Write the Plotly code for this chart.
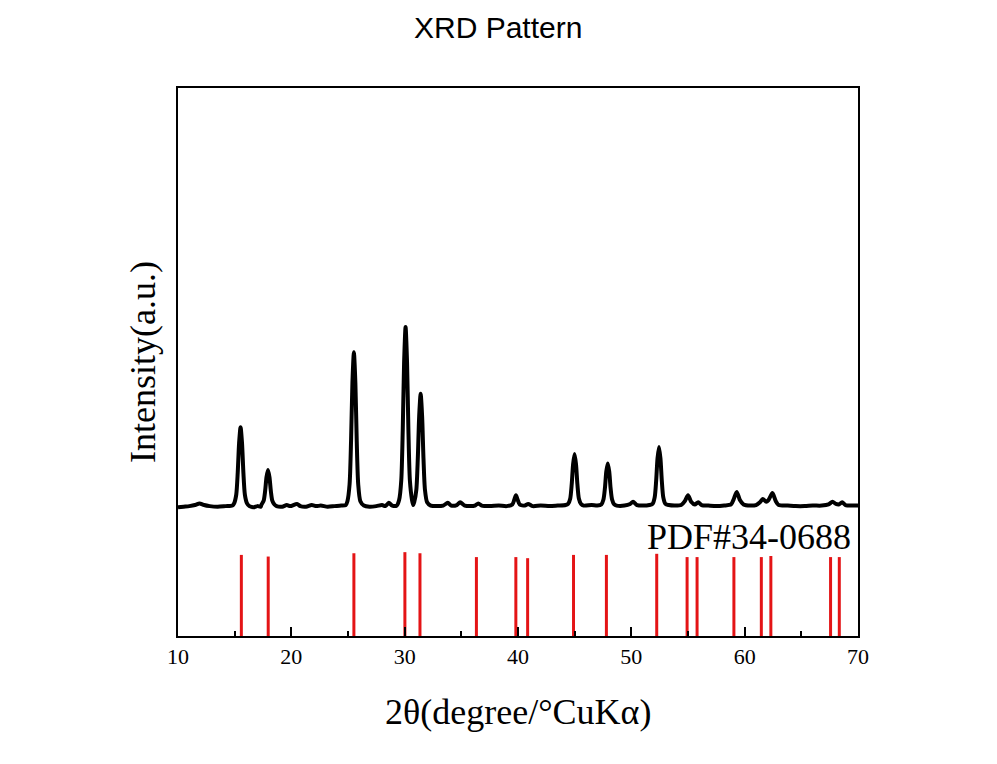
import plotly.graph_objects as go

# ---- measured XRD pattern (2theta, intensity a.u.) ----
two_theta = [
    10.0, 10.5, 11.0, 11.5, 11.9, 12.3, 12.8, 13.5, 14.2, 14.8,
    14.95, 15.14, 15.27, 15.39, 15.52, 15.65, 15.77, 15.90, 16.09,
    16.3, 16.7, 17.0, 17.3,
    17.37, 17.56, 17.69, 17.81, 17.94, 18.07, 18.19, 18.32, 18.51,
    18.7, 19.2, 19.6, 19.9, 20.5, 20.8, 21.3, 21.8, 22.2, 22.6, 23.2, 23.8, 24.4, 24.8,
    24.95, 25.14, 25.27, 25.39, 25.52, 25.65, 25.77, 25.90, 26.09,
    26.4, 26.9, 27.5, 28.0, 28.3, 28.6, 28.9, 29.3,
    29.51, 29.70, 29.83, 29.95, 30.08, 30.21, 30.33, 30.46, 30.65,
    30.75,
    30.84, 31.03, 31.16, 31.28, 31.41, 31.54, 31.66, 31.79, 31.98,
    32.3, 32.8, 33.4, 33.8, 34.1, 34.6, 34.9, 35.3, 35.8, 36.2, 36.5, 36.8,
    37.5, 38.3, 39.0, 39.5, 39.68, 39.82, 39.96, 40.15, 40.6, 40.9, 41.3,
    42.0, 42.8, 43.5, 44.2,
    44.42, 44.61, 44.74, 44.86, 44.99, 45.12, 45.24, 45.37, 45.56,
    45.8, 46.5, 47.0,
    47.35, 47.54, 47.67, 47.79, 47.92, 48.05, 48.17, 48.30, 48.49,
    48.7, 49.4, 49.9, 50.15, 50.5, 51.0, 51.6,
    51.87, 52.06, 52.19, 52.31, 52.44, 52.57, 52.69, 52.82, 53.01,
    53.3, 53.8, 54.4, 54.72, 55.0, 55.28, 55.6, 55.9, 56.2, 56.8, 57.5, 58.2,
    58.8, 59.02, 59.3, 59.58, 59.9, 60.5, 61.0, 61.35, 61.6, 61.9, 62.1, 62.45,
    62.75, 63.0, 63.8, 64.5, 65.3, 66.0, 66.8, 67.4, 67.75, 68.05, 68.3, 68.6,
    68.9, 69.5, 70.0,
]
intensity = [
    23.5, 23.6, 23.7, 23.9, 24.2, 23.9, 23.7, 23.6, 23.7, 23.8,
    24.2, 25.8, 29.8, 35.2, 38.1, 35.2, 29.8, 25.8, 24.2,
    23.7, 23.5, 23.7, 23.6,
    24.0, 24.7, 26.5, 29.0, 30.3, 29.0, 26.5, 24.7, 24.0,
    23.7, 23.6, 23.9, 23.7, 24.1, 23.7, 23.6, 23.9, 23.7, 23.8, 23.6, 23.7, 23.8, 23.9,
    24.6, 27.7, 35.6, 46.2, 51.8, 46.2, 35.6, 27.7, 24.6,
    23.8, 23.6, 23.7, 23.9, 23.7, 24.3, 23.8, 23.8,
    24.8, 28.4, 37.5, 49.9, 56.4, 49.9, 37.5, 28.4, 24.8,
    23.9,
    24.4, 26.7, 32.4, 40.1, 44.2, 40.1, 32.4, 26.7, 24.4,
    23.8, 23.7, 23.8, 24.3, 23.8, 23.9, 24.4, 23.8, 23.7, 23.8, 24.2, 23.8,
    23.7, 23.8, 23.7, 24.0, 24.9, 25.7, 24.9, 24.0, 23.8, 24.1, 23.7,
    23.8, 23.7, 23.8, 23.9,
    24.1, 25.1, 27.7, 31.3, 33.2, 31.3, 27.7, 25.1, 24.1,
    23.8, 23.9, 23.8,
    24.0, 24.9, 27.0, 30.0, 31.5, 30.0, 27.0, 24.9, 24.0,
    23.8, 23.8, 24.1, 24.5, 23.9, 23.8, 23.9,
    24.1, 25.3, 28.3, 32.4, 34.5, 32.4, 28.3, 25.3, 24.1,
    23.9, 23.8, 23.9, 24.6, 25.7, 24.5, 24.0, 24.4, 23.9, 23.8, 23.7, 23.8,
    24.0, 24.9, 26.3, 24.8, 24.0, 23.8, 23.9, 24.4, 25.0, 24.5, 24.8, 26.1,
    24.6, 23.9, 23.8, 23.7, 23.7, 23.8, 23.8, 24.0, 24.5, 24.1, 24.0, 24.4,
    23.9, 23.8, 23.8,
]

# ---- reference card PDF#34-0688 stick positions / heights ----
pdf_positions = [15.59, 17.96, 25.52, 30.02, 31.35, 36.33, 39.81, 40.85, 44.90,
                 47.80, 52.24, 54.92, 55.80, 59.05, 61.47, 62.31, 67.58, 68.35]
pdf_heights = [14.8, 14.5, 15.1, 15.3, 15.1, 14.4, 14.4, 14.2, 14.8,
               14.8, 15.0, 14.4, 14.4, 14.4, 14.4, 14.6, 14.4, 14.4]

x_ticks = [10, 20, 30, 40, 50, 60, 70]
x_range = [10, 70]
y_range = [0, 100]

stick_x, stick_y = [], []
for p, h in zip(pdf_positions, pdf_heights):
    stick_x += [p, p, None]
    stick_y += [0, h, None]

fig = go.Figure()
fig.add_trace(go.Scatter(x=stick_x, y=stick_y, mode="lines",
                         line=dict(color="rgb(228,20,22)", width=3),
                         hoverinfo="skip", showlegend=False))
fig.add_trace(go.Scatter(x=two_theta, y=intensity, mode="lines",
                         line=dict(color="black", width=4, shape="spline",
                                   smoothing=0.7),
                         showlegend=False))

serif = "Liberation Serif, Times New Roman, serif"
fig.update_layout(
    width=997, height=764,
    margin=dict(l=178, r=139, t=88, b=128),
    paper_bgcolor="white", plot_bgcolor="white",
    xaxis=dict(range=x_range, tickvals=x_ticks, ticks="inside", ticklen=9,
               tickwidth=2, tickcolor="black", showline=True, linewidth=2,
               linecolor="black", mirror=True, showgrid=False, zeroline=False,
               tickfont=dict(family=serif, size=22, color="black"),
               minor=dict(dtick=5, tick0=5, ticks="inside", ticklen=5,
                          tickwidth=2, tickcolor="black", showgrid=False)),
    yaxis=dict(range=y_range, showticklabels=False, ticks="", showline=True,
               linewidth=2, linecolor="black", mirror=True, showgrid=False,
               zeroline=False),
    annotations=[
        dict(text="XRD Pattern", xref="paper", yref="paper", x=0.4706, y=1,
             xanchor="center", yanchor="middle", yshift=61, showarrow=False,
             font=dict(family="Liberation Sans, Arial, sans-serif", size=30, color="black")),
        dict(text="2θ(degree/°CuKα)", xref="paper", yref="paper", x=0.5, y=0,
             xanchor="center", yanchor="middle", yshift=-76, showarrow=False,
             font=dict(family=serif, size=36, color="black")),
        dict(text="Intensity(a.u.)", xref="paper", yref="paper", x=0, y=0.5,
             xanchor="center", yanchor="middle", xshift=-35, textangle=-90,
             showarrow=False, font=dict(family=serif, size=36, color="black")),
        dict(text="PDF#34-0688", xref="paper", yref="y", x=1, y=18.1,
             xanchor="right", yanchor="middle", xshift=-5, showarrow=False,
             font=dict(family=serif, size=36, color="black")),
    ],
)

fig.write_html("out.html")
